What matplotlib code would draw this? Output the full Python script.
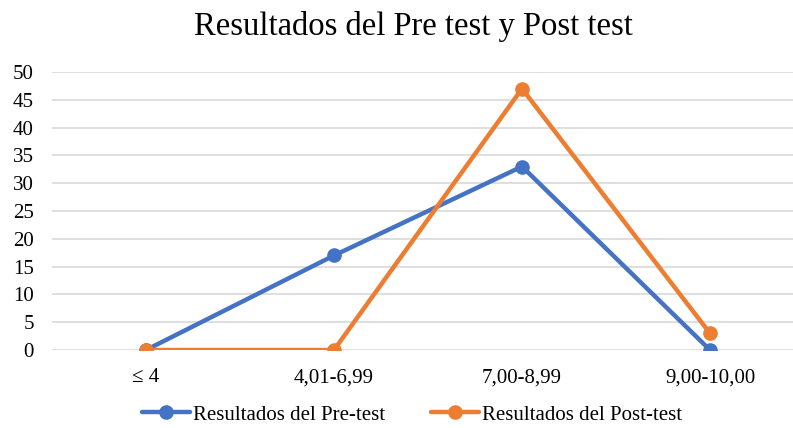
import matplotlib
matplotlib.use('Agg')
import matplotlib.pyplot as plt
import numpy as np

plt.rcParams['font.family'] = ['Liberation Serif', 'DejaVu Serif']

categorias = ['≤ 4', '4,01-6,99', '7,00-8,99', '9,00-10,00']
pre_test = [0, 17, 33, 0]
post_test = [0, 0, 47, 3]
yticks = np.arange(0, 55, 5)

W, H = 793, 428
fig = plt.figure(figsize=(W / 100, H / 100), dpi=100)
ax = fig.add_axes([52 / W, (H - 350) / H, 752 / W, 278 / H])

x = np.arange(len(categorias))
ax.plot(x, pre_test, color='#4472C4', lw=3.2, marker='o', markersize=9.5,
        label='Resultados del Pre-test', solid_capstyle='round', zorder=3)
ax.plot(x, post_test, color='#ED7D31', lw=3.2, marker='o', markersize=9.5,
        label='Resultados del Post-test', solid_capstyle='round', zorder=4)

ax.set_xlim(-0.5, len(categorias) - 0.5)
ax.set_ylim(0, 50)
ax.set_yticks(yticks)
ax.set_xticks(x)
ax.set_xticklabels(categorias)
ax.tick_params(axis='both', length=0, labelsize=15, colors='black')
ax.tick_params(axis='y', pad=13)
ax.tick_params(axis='x', pad=13)
ax.grid(axis='y', color='#D9D9D9', lw=1.2)
ax.set_axisbelow(True)
for s in ax.spines.values():
    s.set_visible(False)

fig.text(413 / W, 1 - 27 / H, 'Resultados del Pre test y Post test',
         ha='center', va='center', fontsize=23.5)

fig.legend(loc='center', bbox_to_anchor=(412 / W, 1 - 415 / H), ncol=2,
           frameon=False, fontsize=15, handlelength=2.3, handletextpad=0.15,
           columnspacing=2.2, borderpad=0)

fig.savefig('out.png', dpi=100)
